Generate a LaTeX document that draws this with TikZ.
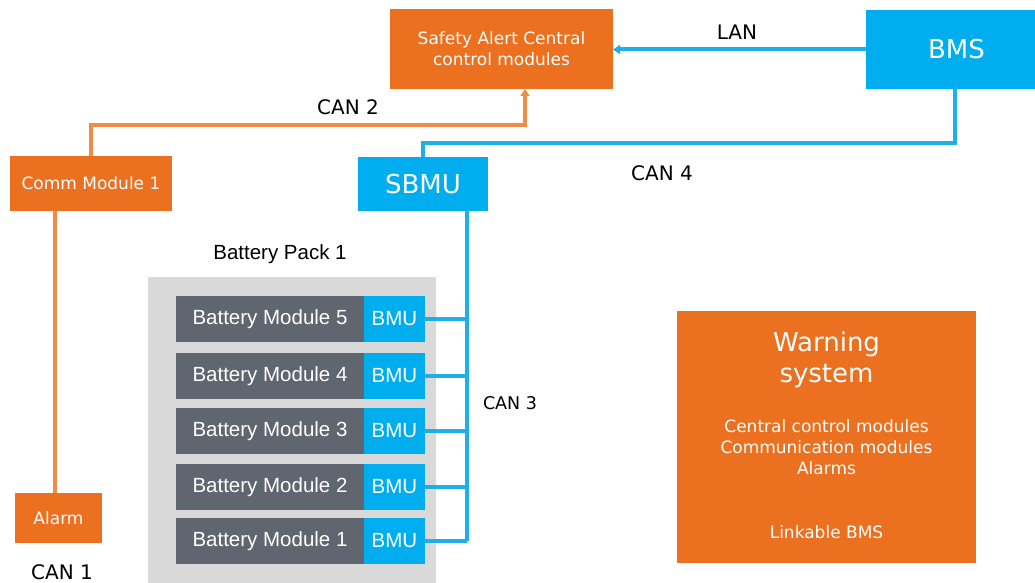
\documentclass[tikz,border=0pt]{standalone}
\usepackage{fontspec}
\setmainfont{DejaVu Sans}
\newfontfamily\arialf{Liberation Sans}
\usetikzlibrary{arrows.meta}
\definecolor{orng}{RGB}{235,112,32}
\definecolor{orline}{RGB}{240,140,70}
\definecolor{bblue}{RGB}{0,174,239}
\definecolor{bline}{RGB}{30,175,235}
\definecolor{dgray}{RGB}{96,102,112}
\definecolor{lgray}{RGB}{217,217,217}
\tikzset{
  obox/.style={fill=orng, draw=none, inner sep=0pt, outer sep=0pt, text=white, align=center, font=\fontsize{17}{21}\selectfont},
  bbox/.style={fill=bblue, draw=none, inner sep=0pt, outer sep=0pt, text=white, align=center, font=\fontsize{26}{30}\selectfont},
  modbox/.style={fill=dgray, draw=none, inner sep=0pt, outer sep=0pt, text=white, minimum width=188pt, minimum height=46pt, font=\arialf\fontsize{20.5}{24}\selectfont},
  bmubox/.style={fill=bblue, draw=none, inner sep=0pt, outer sep=0pt, text=white, minimum width=61pt, minimum height=46pt, font=\arialf\fontsize{20.5}{24}\selectfont},
  oline/.style={draw=orline, line width=4pt},
  bl/.style={draw=bline, line width=4pt},
  tip/.style={-{Triangle[length=7pt,width=9pt]}},
  lbl/.style={inner sep=0pt, text=black, font=\fontsize{20}{24}\selectfont},
  wtxt/.style={inner sep=0pt, text=white, align=center},
}
\begin{document}
\begin{tikzpicture}[x=1pt,y=-1pt]
\useasboundingbox (0,0) rectangle (1035,583);
\fill[white] (0,0) rectangle (1035,583);

% top boxes
\node[obox, minimum width=223pt, minimum height=80pt] (safety) at (501.5,49) {Safety Alert Central\\control modules};
\node[bbox, minimum width=181pt, minimum height=79pt] (bms) at (956.5,49.5) {BMS};
\node[bbox, minimum width=130pt, minimum height=54pt] (sbmu) at (423,184) {SBMU};
\node[obox, minimum width=162pt, minimum height=55pt] (comm) at (91,183.5) {Comm Module 1};
\node[obox, minimum width=87pt, minimum height=50pt] (alarm) at (58.5,518) {Alarm};

% battery pack
\node[fill=lgray, draw=none, inner sep=0pt, outer sep=0pt, minimum width=288pt, minimum height=306pt] (pack) at (292,430) {};
\node[lbl, font=\arialf\fontsize{20.5}{24}\selectfont] (packlbl) at (280,254) {Battery Pack 1};

\foreach \i/\y in {5/319,4/376,3/431,2/487,1/541}{
  \node[modbox] (mod\i) at (270,\y) {Battery Module \i};
  \node[bmubox] (bmu\i) at (394.5,\y) {BMU};
}

% warning system
\node[fill=orng, draw=none, inner sep=0pt, outer sep=0pt, minimum width=299pt, minimum height=252pt] (warn) at (826.5,437) {};
\node[wtxt, font=\fontsize{26}{31}\selectfont] (wtitle) at (826.5,359.5) {Warning\\system};
\node[wtxt, font=\fontsize{17}{21}\selectfont] (wlist) at (826.5,447) {Central control modules\\Communication modules\\Alarms};
\node[wtxt, font=\fontsize{17}{21}\selectfont] (wlink) at (826.5,532) {Linkable BMS};

% coordinates
\coordinate (c2) at (525,125);
\coordinate (c4) at (955,143);
\coordinate (al) at (55,300);
\coordinate (bus) at (467,541);

% connectors
\draw[oline, tip] (comm.north) |- (c2) -- (c2 |- safety.south);
\draw[oline] (al |- alarm.north) -- (al |- comm.south);
\draw[bl, tip] (bms.west) -- (bms.west -| safety.east);
\draw[bl] (c4 |- bms.south) -- (c4) -| (sbmu.north);
\draw[bl] (sbmu.south -| bus) -- (bus);
\foreach \i in {1,...,5}{
  \draw[bl] (bmu\i.east) -- (bmu\i.east -| bus);
}

% labels
\node[lbl] (lcan2) at (348,107) {CAN 2};
\node[lbl] (llan) at (737,32) {LAN};
\node[lbl] (lcan4) at (662,173) {CAN 4};
\node[lbl, font=\fontsize{17.5}{21}\selectfont] (lcan3) at (510,403) {CAN 3};
\node[lbl] (lcan1) at (62,572) {CAN 1};
\end{tikzpicture}
\end{document}
